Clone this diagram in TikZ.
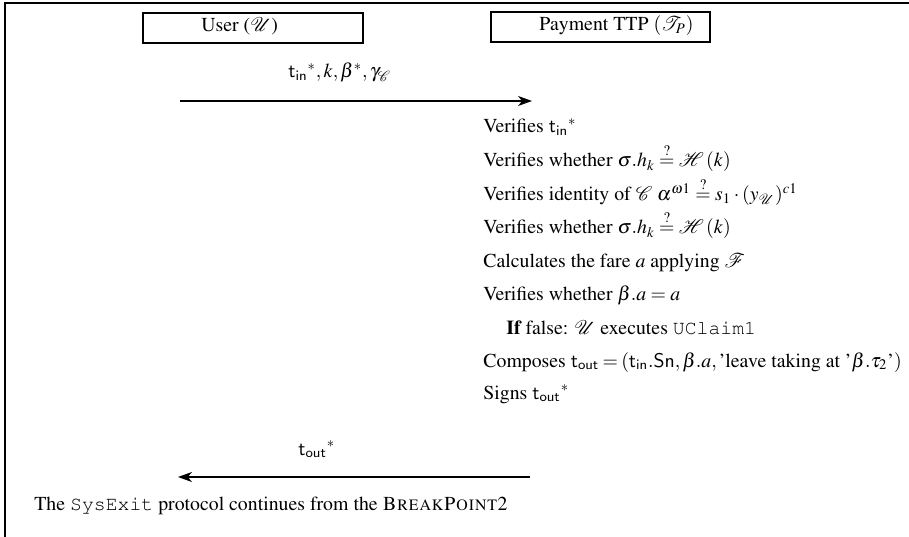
\documentclass[tikz,border=0pt]{standalone}
\usepackage[T1]{fontenc}
\usepackage{amsmath}
\usepackage{mathptmx}
\usepackage[scaled=0.92]{helvet}
\usepackage{courier}
\usetikzlibrary{arrows.meta}

\newcommand{\tin}{\mathsf{t_{in}}}
\newcommand{\tout}{\mathsf{t_{out}}}
\newcommand{\qeq}{\stackrel{?}{=}}

\tikzset{
  frameline/.style={line width=1pt},
  party/.style={draw, line width=0.55pt, inner sep=0pt},
  lbl/.style={anchor=base west, inner sep=0pt},
  msg/.style={line width=0.7pt, -{Stealth[length=7pt, width=5pt, inset=2pt]}},
}

\begin{document}
\begin{tikzpicture}[x=0.505pt, y=-0.505pt, font=\fontsize{10pt}{12pt}\selectfont]
  \useasboundingbox (0,0) rectangle (909,537);

  % outer frame (top and left edges)
  \draw[frameline] (4,3) -- (909,3);
  \draw[frameline] (5,3) -- (5,537);

  % parties
  \node[party, minimum width=220*0.505pt, minimum height=30*0.505pt] (userbox) at (253,28) {};
  \node[lbl] (user) at (201,32) {User ($\mathcal{U}$)};
  \node[party, minimum width=219*0.505pt, minimum height=30*0.505pt] (ttpbox) at (600.5,27) {};
  \node[lbl] (ttp) at (539,31) {Payment TTP $\left(\mathcal{T}_P\right)$};

  % first message: user -> TTP
  \coordinate (m1s) at (180,101);
  \coordinate (m1e) at (532,101);
  \draw[msg] (m1s) -- (m1e);
  \node[lbl] (msg1) at (288,78) {$\tin^*, k, \beta^*, \gamma_{\mathcal{C}}$};

  % actions performed by the TTP
  \node[lbl] (act1) at (483,133) {Verifies $\tin^*$};
  \node[lbl] (act2) at (483,167) {Verifies whether $\sigma.h_k \qeq \mathcal{H}\,(k)$};
  \node[lbl] (act3) at (483,201) {Verifies identity of $\mathcal{C}$ $\alpha^{\omega1} \qeq s_1\cdot(y_{\mathcal{U}})^{c1}$};
  \node[lbl] (act4) at (483,234) {Verifies whether $\sigma.h_k \qeq \mathcal{H}\,(k)$};
  \node[lbl] (act5) at (483,268) {Calculates the fare $a$ applying $\mathcal{F}$};
  \node[lbl] (act6) at (483,301) {Verifies whether $\beta.a = a$};
  \node[lbl] (act7) at (506,334) {\textbf{If} false: $\mathcal{U}$ executes \texttt{UClaim1}};
  \node[lbl] (act8) at (483,367) {\thickmuskip=3mu\thinmuskip=2mu Composes $\tout = \left(\tin.\mathsf{Sn}, \beta.a, \text{'leave taking at '}\beta.\tau_2\text{'}\right)$};
  \node[lbl] (act9) at (483,399) {Signs $\tout^*$};

  % second message: TTP -> user
  \coordinate (m2s) at (530,477);
  \coordinate (m2e) at (178,477);
  \draw[msg] (m2s) -- (m2e);
  \node[lbl] (msg2) at (298,455) {$\tout^*$};

  % closing remark
  \node[lbl] (note) at (34,510) {The \texttt{SysExit} protocol continues from the \textsc{BreakPoint}2};
\end{tikzpicture}
\end{document}
